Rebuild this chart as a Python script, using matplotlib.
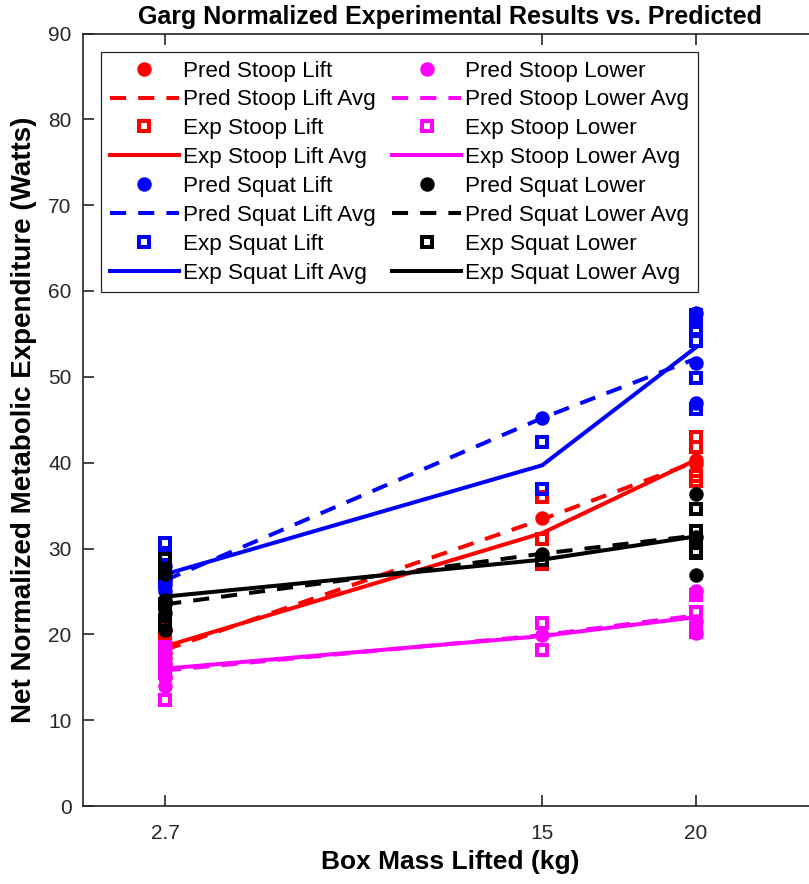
import numpy as np
import matplotlib
matplotlib.use("Agg")
import matplotlib.pyplot as plt

plt.rcParams['font.family'] = ['Liberation Sans', 'DejaVu Sans']

# ---------------- data ----------------
masses = [2.7, 15, 20]
tick_labels = ['2.7', '15', '20']

# individual points (per mass)
pred_stoop_lift = [[20.5, 19.0, 17.8, 16.5, 17.2], [33.5], [40.3, 39.9]]
exp_stoop_lift = [[20.9, 19.5, 18.0, 17.5, 17.1], [36.0, 31.1, 28.2], [43.0, 41.8, 38.4, 37.9]]
pred_squat_lift = [[28.0, 26.5, 25.8, 25.0, 26.2], [45.2], [57.4, 51.6, 47.0]]
exp_squat_lift = [[30.6, 29.2, 27.8, 26.0, 21.2], [42.4, 36.9], [57.2, 56.4, 55.6, 54.2, 49.9, 46.3]]
pred_stoop_lower = [[18.5, 16.5, 15.0, 14.0, 15.0], [19.9], [25.0, 21.5, 20.1]]
exp_stoop_lower = [[18.5, 16.8, 15.5, 12.4, 17.0], [21.3, 18.2], [24.6, 22.6, 20.3, 20.6]]
pred_squat_lower = [[27.0, 24.0, 22.5, 20.5, 23.5], [29.4], [36.3, 26.9, 31.3]]
exp_squat_lower = [[28.8, 27.2, 23.5, 21.5, 21.0], [28.7], [34.6, 32.0, 31.0, 29.7, 29.5]]

# averages
pred_stoop_lift_avg = [18.2, 33.4, 40.1]
exp_stoop_lift_avg = [18.6, 31.8, 40.3]
pred_squat_lift_avg = [26.3, 45.2, 52.1]
exp_squat_lift_avg = [27.0, 39.7, 53.4]
pred_stoop_lower_avg = [15.8, 19.9, 22.2]
exp_stoop_lower_avg = [16.0, 19.8, 22.0]
pred_squat_lower_avg = [23.5, 29.4, 31.5]
exp_squat_lower_avg = [24.4, 28.7, 31.4]

title = 'Garg Normalized Experimental Results vs. Predicted'
xlabel = 'Box Mass Lifted (kg)'
ylabel = 'Net Normalized Metabolic Expenditure (Watts)'

# ---------------- figure ----------------
W, H = 809, 884
dpi = 100
fig = plt.figure(figsize=(W / dpi, H / dpi), dpi=dpi)
ax_left, ax_bottom = 82.5, 806
ax_top = 33.5
XMAX = 24
ax_w = XMAX * 30.65
ax = fig.add_axes([ax_left / W, (H - ax_bottom) / H, ax_w / W, (ax_bottom - ax_top) / H])

dot_ms = 9.4
sq_ms = 7.0
sq_mew = 2.9
lw = 2.9
dash = (4, 3)


def flat(groups):
    xs, ys = [], []
    for m, g in zip(masses, groups):
        xs.extend([m] * len(g))
        ys.extend(g)
    return xs, ys


series = [
    ('Stoop Lift', 'red', pred_stoop_lift, pred_stoop_lift_avg, exp_stoop_lift, exp_stoop_lift_avg),
    ('Squat Lift', 'blue', pred_squat_lift, pred_squat_lift_avg, exp_squat_lift, exp_squat_lift_avg),
    ('Stoop Lower', 'magenta', pred_stoop_lower, pred_stoop_lower_avg, exp_stoop_lower, exp_stoop_lower_avg),
    ('Squat Lower', 'black', pred_squat_lower, pred_squat_lower_avg, exp_squat_lower, exp_squat_lower_avg),
]

for name, col, pred, pred_avg, exp, exp_avg in series:
    xs, ys = flat(pred)
    ax.plot(xs, ys, linestyle='none', marker='o', ms=dot_ms, color=col, mec=col,
            label='Pred ' + name)
    ax.plot(masses, pred_avg, linestyle=(0, dash), lw=lw, color=col, label='Pred ' + name + ' Avg')
    xs, ys = flat(exp)
    ax.plot(xs, ys, linestyle='none', marker='s', ms=sq_ms, mew=sq_mew, mfc='none', mec=col,
            label='Exp ' + name)
    ax.plot(masses, exp_avg, linestyle='-', lw=lw, color=col, label='Exp ' + name + ' Avg')

ax.set_xlim(0, XMAX)
ax.set_ylim(0, 90)
ax.set_xticks(masses)
ax.set_xticklabels(tick_labels)
ax.set_yticks(np.arange(0, 91, 10))

axcol = '#262626'
for s in ax.spines.values():
    s.set_linewidth(1.2)
    s.set_color(axcol)
ax.tick_params(direction='in', length=8, width=1.2, colors=axcol, labelsize=15,
               top=True, right=False)
ax.tick_params(axis='y', pad=8)
ax.tick_params(axis='x', pad=13)
for lab in ax.get_xticklabels() + ax.get_yticklabels():
    lab.set_color(axcol)

ax.set_title(title, fontsize=18, fontweight='bold', pad=7)
ax.set_xlabel(xlabel, fontsize=19, fontweight='bold', labelpad=5)
ax.set_ylabel(ylabel, fontsize=20, fontweight='bold', labelpad=8)

handles, labels = ax.get_legend_handles_labels()
leg = ax.legend(handles, labels, ncol=2, loc='upper left',
                bbox_to_anchor=((101 - ax_left) / ax_w, (ax_bottom - 52) / (ax_bottom - ax_top)),
                fontsize=16.2, frameon=True, fancybox=False, edgecolor=axcol, framealpha=1,
                handlelength=3.07, handletextpad=0.18, columnspacing=0.75, labelspacing=0.35,
                borderpad=0.38, borderaxespad=0)
leg.get_frame().set_linewidth(0.9)

fig.savefig('out.png', dpi=dpi)
